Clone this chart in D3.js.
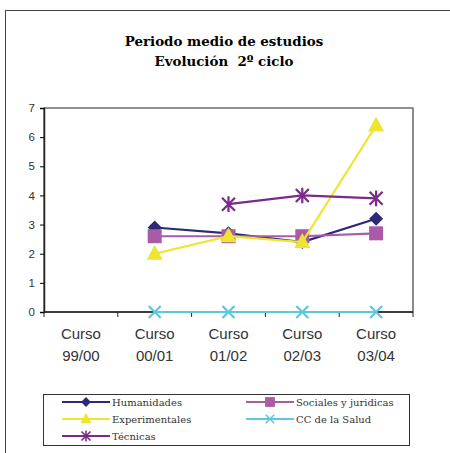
<!DOCTYPE html>
<html><head><meta charset="utf-8">
<script src="https://cdn.jsdelivr.net/npm/d3@7/dist/d3.min.js"></script>
<style>body{margin:0;background:#fff}svg{display:block}</style>
</head><body>
<script>
const categories = ["Curso 99/00","Curso 00/01","Curso 01/02","Curso 02/03","Curso 03/04"];
const yTicks = [0,1,2,3,4,5,6,7];
const humanidades = [null, 2.9, 2.7, 2.4, 3.2];
const sociales = [null, 2.6, 2.6, 2.6, 2.7];
const experimentales = [null, 2.0, 2.6, 2.4, 6.4];
const salud = [null, 0, 0, 0, 0];
const tecnicas = [null, null, 3.7, 4.0, 3.9];
const seriesNames = ["Humanidades","Sociales y juridicas","Experimentales","CC de la Salud","Técnicas"];

const series = [
  {name: seriesNames[0], values: humanidades, color:"#2B2A77", marker:"diamond"},
  {name: seriesNames[1], values: sociales, color:"#A95BA8", marker:"square"},
  {name: seriesNames[2], values: experimentales, color:"#EEE530", marker:"triangle"},
  {name: seriesNames[3], values: salud, color:"#5CC8DA", marker:"x"},
  {name: seriesNames[4], values: tecnicas, color:"#7B2A8A", marker:"asterisk"}
];
const drawOrder = [0,1,2,4,3];

const W=450,H=453;
const svg=d3.select("body").append("svg").attr("width",W).attr("height",H);
svg.append("rect").attr("x",5.5).attr("y",10.5).attr("width",500).attr("height",500)
  .attr("fill","none").attr("stroke","#444").attr("stroke-width",1);

svg.append("text").attr("x",224).attr("y",46).attr("text-anchor","middle")
  .attr("font-family","DejaVu Serif").attr("font-weight","bold").attr("font-size",13.4)
  .text("Periodo medio de estudios");
svg.append("text").attr("x",224).attr("y",66).attr("text-anchor","middle")
  .attr("font-family","DejaVu Serif").attr("font-weight","bold").attr("font-size",13.4)
  .attr("xml:space","preserve").text("Evolución  2º ciclo");

const L=44,R=413,T=108,B=312;
const x=d3.scaleBand().domain(categories).range([L,R]);
const y=d3.scaleLinear().domain([0,7]).range([B,T]);

svg.append("rect").attr("x",L).attr("y",T).attr("width",R-L).attr("height",B-T)
  .attr("fill","none").attr("stroke","#222").attr("stroke-width",1);
svg.append("line").attr("x1",R).attr("x2",R).attr("y1",T).attr("y2",B).attr("stroke","#888").attr("stroke-width",1.5);

const ya=svg.append("g").attr("transform",`translate(${L},0)`)
  .call(d3.axisLeft(y).tickValues(yTicks).tickSize(4).tickPadding(5).tickFormat(d3.format("d")));
ya.select(".domain").attr("stroke","#222").attr("stroke-width",1.5);
ya.selectAll("text").attr("font-family","Liberation Sans").attr("font-size",11.5).attr("fill","#333");

const bounds=categories.map(c=>x(c)).concat([R]);
svg.append("line").attr("x1",L).attr("x2",R).attr("y1",B).attr("y2",B).attr("stroke","#222").attr("stroke-width",1.5);
svg.selectAll(".xt").data(bounds).enter().append("line")
  .attr("x1",d=>d).attr("x2",d=>d).attr("y1",B).attr("y2",B+5).attr("stroke","#222");
const xl=svg.selectAll(".xl").data(categories).enter().append("text")
  .attr("text-anchor","middle").attr("font-family","Liberation Sans").attr("font-size",15).attr("fill","#333");
xl.append("tspan").attr("x",d=>x(d)+x.bandwidth()/2).attr("y",339).text(d=>d.split(" ")[0]);
xl.append("tspan").attr("x",d=>x(d)+x.bandwidth()/2).attr("y",361).text(d=>d.split(" ")[1]);

function marker(g,type,color,cx,cy,s){
  s=s||1;
  if(type==="diamond"){
    g.append("path").attr("d",`M${cx},${cy-7*s}L${cx+7*s},${cy}L${cx},${cy+7*s}L${cx-7*s},${cy}Z`).attr("fill",color);
  } else if(type==="square"){
    g.append("rect").attr("x",cx-7*s).attr("y",cy-7*s).attr("width",14*s).attr("height",14*s).attr("fill",color);
  } else if(type==="triangle"){
    g.append("path").attr("d",`M${cx},${cy-9*s}L${cx+8*s},${cy+6*s}L${cx-8*s},${cy+6*s}Z`).attr("fill",color);
  } else if(type==="x"){
    const r=6*s;
    g.append("path").attr("d",`M${cx-r},${cy-r}L${cx+r},${cy+r}M${cx-r},${cy+r}L${cx+r},${cy-r}`)
      .attr("stroke",color).attr("stroke-width",2.2*s).attr("fill","none");
  } else if(type==="asterisk"){
    const r=6.5*s;
    g.append("path").attr("d",`M${cx-r},${cy-r}L${cx+r},${cy+r}M${cx-r},${cy+r}L${cx+r},${cy-r}M${cx},${cy-r*1.2}L${cx},${cy+r*1.2}`)
      .attr("stroke",color).attr("stroke-width",2.2*s).attr("fill","none");
  }
}

const line=d3.line().defined(d=>d.v!=null).x(d=>x(d.c)+x.bandwidth()/2).y(d=>y(d.v));
drawOrder.forEach(i=>{
  const s=series[i];
  const pts=categories.map((c,j)=>({c,v:s.values[j]}));
  const g=svg.append("g");
  g.append("path").attr("d",line(pts)).attr("fill","none").attr("stroke",s.color).attr("stroke-width",2.2);
  pts.filter(p=>p.v!=null).forEach(p=>marker(g,s.marker,s.color,x(p.c)+x.bandwidth()/2,y(p.v)));
});

// legend
svg.append("rect").attr("x",43.5).attr("y",394.5).attr("width",366).attr("height",51)
  .attr("fill","none").attr("stroke","#333").attr("stroke-width",1);
const legPos=[[62,402],[246,402],[62,419],[246,419],[62,436]];
series.forEach((s,i)=>{
  const [lx,ly]=legPos[i];
  const g=svg.append("g");
  g.append("line").attr("x1",lx).attr("x2",lx+48).attr("y1",ly).attr("y2",ly).attr("stroke",s.color).attr("stroke-width",2);
  marker(g,s.marker,s.color,lx+24,ly,0.7);
  g.append("text").attr("x",lx+50).attr("y",ly+3.5).attr("font-family","DejaVu Serif").attr("font-size",10)
    .attr("fill","#333").text(s.name);
});
</script>
</body></html>
